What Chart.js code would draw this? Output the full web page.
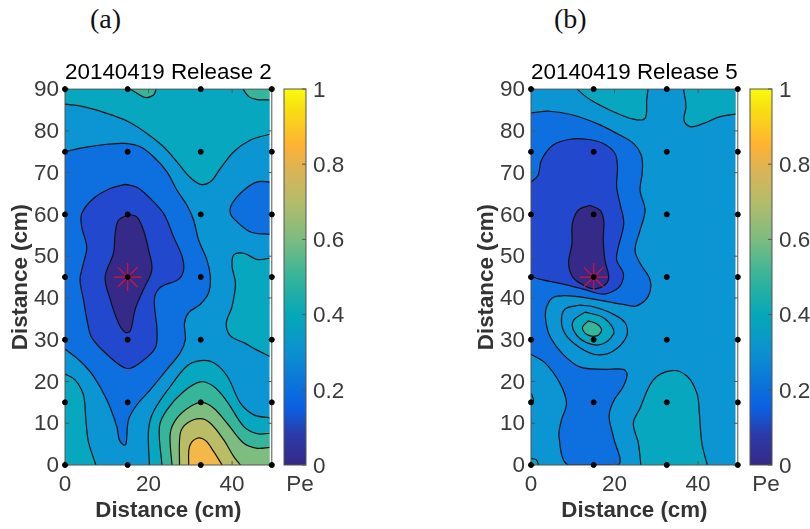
<!DOCTYPE html>
<html>
<head>
<meta charset="utf-8">
<script src="https://cdn.jsdelivr.net/npm/chart.js@4"></script>
<style>
    html, body { margin: 0; background: #fff; overflow: hidden; }
    body { width: 810px; height: 529px; position: relative; }
    canvas { position: absolute; top: 0; }
    .panel-tag { position: absolute; top: 3px; font: 28px "Liberation Serif", serif; color: #111; }
</style>
</head>
<body>
<div class="panel-tag" style="left:90px">(a)</div>
<div class="panel-tag" style="left:554px">(b)</div>
<canvas id="chartA" width="287" height="529" style="left:0"></canvas>
<canvas id="barA" width="80" height="529" style="left:276px"></canvas>
<canvas id="chartB" width="287" height="529" style="left:466px"></canvas>
<canvas id="barB" width="68" height="529" style="left:742px"></canvas>
<script>
// Sampling grid (cm) and the release point
const sensorX = [0, 15, 32.5, 49.5];
const sensorY = [0, 15, 30, 45, 60, 75, 90];
const releasePoint = [[15, 45]];

const xTicks = [0, 20, 40];
const yTicks = [0, 10, 20, 30, 40, 50, 60, 70, 80, 90];
const barTicks = [0, 0.2, 0.4, 0.6, 0.8, 1];
const barLabel = ["Pe"];
const barRange = [[0, 1]];

// Filled band colours, one per 0.1 of Pe
const bandColors = ["#352a87", "#2249cd", "#0d70de", "#0b95d2", "#07a8bf", "#36b59b", "#7ebd80", "#b9bd66", "#f3b848"];
const barStops = [
    [0, "#352a87"], [0.08, "#2c3aa8"], [0.15, "#0b5fe0"], [0.2, "#0b6fdc"], [0.3, "#0c90d0"],
    [0.4, "#05a8b8"], [0.5, "#35b49a"], [0.6, "#7cbc80"], [0.7, "#b4bc6a"], [0.78, "#d8b458"],
    [0.85, "#ffb233"], [0.95, "#f8e010"], [1, "#f9fb0e"]
];

// Contours, in cm
const a_topBand = [[0,86.4],[4.4,85.8],[10,84.2],[15.2,82.2],[19.6,79.4],[23.6,76.2],[26.8,72.6],[29.6,69.2],[32.4,67.2],[34.8,67.8],[37.2,71],[40.4,75],[44.4,77.8],[49,79.2]];
const a_topBlob1 = [[15.6,90],[17.2,89],[19.2,88],[21.2,88.6],[21.8,90]];
const a_topBlob2 = [[42.6,90],[44,88.2],[46,87.5],[49,87.4]];
const a_rightTeal = [[49,49.5],[46,49.2],[42.8,50.7],[40.4,50.3],[40,47.5],[40.8,43.5],[40,38],[38.6,34],[39.6,30.9],[42.8,29.3],[46,27.5],[49,26]];
const a_rightBlue = [[49,67.8],[46,67.8],[42.8,65.8],[40,62.6],[39.6,60.2],[41.2,58.2],[44.4,55.8],[49,55.2]];
const a_cornerTeal = [[0,21.8],[2.4,20.4],[4.4,16.8],[5,10.8],[5.6,5.6],[7.4,0]];
const a_hump1 = [[20.2,0],[20,8.4],[21.2,12.8],[25.2,18.8],[29.2,23.7],[32.4,25],[35.6,24.5],[38.8,21.3],[42,14.8],[45.2,12],[49,11.3]];
const a_hump2 = [[23.2,0],[22.6,9.2],[24.4,13.2],[28.4,17.6],[32.4,19.9],[35.6,18.8],[38.8,15.2],[42.8,9.2],[46,7.5],[49,7.6]];
const a_hump3 = [[25.6,0],[25.2,7.6],[26.8,11.2],[30,14],[32.8,15],[35.6,13.6],[38.8,10],[42.8,5.2],[46,4],[49,4.2]];
const a_hump4 = [[27.4,0],[27.6,7.6],[29.2,10],[32.4,11.1],[34.8,10],[38,6],[40.4,2],[42,0]];
const a_hump5 = [[29.6,0],[29.8,4.4],[31.6,6.4],[33.6,5.9],[35.6,3.2],[37.6,0]];
const a_blue = [[0,75],[4.4,76],[10,76.8],[14.4,77],[18,76.2],[21.2,73.8],[24.4,70.2],[26.8,65.8],[29.2,62.2],[30.8,58.6],[32,53.8],[34,49],[34.8,45],[34.4,41.3],[32.4,38.5],[29.6,36.5],[28.6,34],[28.8,30],[27.6,26.9],[24.4,22.9],[20.4,18],[17.2,14.4],[15.2,10.8],[14.6,5],[14,4.8],[13,6],[12.4,9.2],[10,15.6],[6.8,21.3],[3.6,24.9],[0,27.8]];
const a_deepBlue = [[14.4,67.2],[10.8,66.2],[6.8,63.8],[4,60.2],[4,57],[5.2,52.2],[4.4,48.2],[3.6,44.4],[4.4,39.7],[5.4,34],[6.4,30.5],[10,26.5],[14.8,23.1],[18,24.5],[21.6,28],[22,32.5],[21.4,39.7],[22.8,42.5],[27.2,44.5],[28.4,46.7],[28,50],[26,54.6],[23.6,60.2],[19.6,64.6],[17.2,66.5]];
const a_core = [[15.2,60],[12.8,58.6],[12,55.4],[11.6,50.7],[9.6,45],[10.8,39.7],[12.8,34],[14.4,31.8],[15.6,32],[16.8,37.3],[18.8,42.1],[20.8,46.7],[20,51.5],[18.8,56.2],[17.2,59.4]];

// Contours, in cm
const b_topBlob1 = [[11,90],[14.1,87.5],[19.7,84.6],[24.5,82.8],[27.3,83],[27.7,87.4],[28,90]];
const b_topBlob2 = [[36.5,90],[37.1,85.8],[36.6,82.6],[38.1,81],[41.3,81.8],[45.3,83.4],[49,84]];
const b_blue = [[0,84.3],[4.5,84.7],[10,83.8],[15.7,81.8],[20.5,79.4],[24.5,77],[26.5,73.8],[26.6,69.8],[26.1,65.8],[27.3,61],[26.1,56.2],[24.9,51.5],[26.1,48.3],[28.5,44.3],[28.1,40.5],[25.3,38.1],[22.9,38.3],[17.3,39.3],[9.3,40.5],[5.3,40.1],[3.7,37.7],[3.5,34.9],[4.5,30.9],[7.7,26.5],[11.7,23.5],[17.3,22.9],[22.1,22.9],[23,21.7],[22.1,18.8],[19.7,15.2],[18.7,11.6],[19.7,6.8],[20.9,0],[8.9,0],[6.7,6.8],[7.3,10.8],[8.5,14.8],[6.9,19.6],[3.3,24.5],[0,26.5]];
const b_deepBlue = [[0,67.7],[1.7,69.4],[2.5,73],[5.3,76.6],[9.3,78],[13.3,78],[17.3,77],[20.1,74.6],[20.7,71.4],[20.5,66.6],[21.3,62.6],[22.2,57.8],[20.9,52.2],[20.5,49],[22.1,45.9],[21.7,43.5],[20.5,42.1],[17.3,40.9],[12.5,42.1],[7.7,43.3],[2,44.5],[0,45.2]];
const b_core = [[14.1,62.2],[11.3,61],[9.9,57.8],[9.8,53],[9,48.3],[10,45],[12.5,43.1],[15,42.2],[17.7,43.1],[18.6,45],[17.7,49],[17.3,53.8],[17.4,58.6],[16.5,61]];
const b_spot1 = [[11.7,38.3],[8.1,37.3],[7.3,34.1],[8.5,30.9],[11.7,28.1],[15.7,26.4],[19.7,27.3],[22.9,30.9],[22.5,34.1],[18.9,36.5],[14.9,37.9]];
const b_spot2 = [[12.9,36.6],[10.1,34.5],[10.5,31.7],[13.3,29.3],[16.9,28.9],[19.7,31.3],[19.3,33.3],[16.9,35.5]];
const b_spot3 = [[13.7,34.5],[12.3,32.9],[13.3,31.3],[15.7,30.9],[16.9,32.3],[15.7,33.8]];
const b_hump = [[26.3,0],[25.7,5.2],[24.5,10],[26.1,13.6],[29.3,20.4],[33.7,22.6],[37.3,21.3],[39.7,17.2],[40.3,12.4],[40.9,5.2],[42.2,0]];
const b_corner = [[0,1.6],[1.3,1.2],[1.8,0]];
const b_edgeSpot = [[0,17.2],[0.6,15.5],[0,14.5]];

const INK = "#3a3a3a";
const TICK_FONT = { family: "Liberation Sans", size: 22.5 };
const LABEL_FONT = { family: "Liberation Sans", size: 22.3, weight: "bold" };
const sensors = [];
sensorX.forEach(x => sensorY.forEach(y => sensors.push([x, y])));

// One filled patch plus its contour line. edge = extra corners to close the fill, or null for a ring
function patch(points, edge, band) {
    let outline = edge ? points : points.concat([points[0]]);
    let area = edge ? points.concat(edge) : outline;
    return [
        { data: area, showLine: true, fill: "shape", backgroundColor: bandColors[band], borderColor: "transparent", borderWidth: 0, tension: 0.35, pointRadius: 0 },
        { data: outline, showLine: true, fill: false, borderColor: "#111", borderWidth: 1.2, tension: 0.35, pointRadius: 0 }
    ];
}

function plainBlock(points, color) {
    return { data: points, showLine: true, fill: "shape", backgroundColor: color, borderWidth: 0, tension: 0, pointRadius: 0 };
}

// MATLAB style box with ticks pointing inwards
function drawBox(chart, sides) {
    const ctx = chart.ctx, area = chart.chartArea;
    ctx.save();
    ctx.strokeStyle = "#555";
    ctx.lineWidth = 1;
    ctx.strokeRect(area.left, area.top, area.right - area.left, area.bottom - area.top);
    ctx.beginPath();
    chart.scales.y.options.ticks.values.forEach(v => {
        let py = chart.scales.y.getPixelForValue(v);
        if (sides.left) { ctx.moveTo(area.left, py); ctx.lineTo(area.left + 4, py); }
        ctx.moveTo(area.right, py); ctx.lineTo(area.right - 4, py);
    });
    if (sides.x) {
        xTicks.forEach(v => {
            let px = chart.scales.x.getPixelForValue(v);
            ctx.moveTo(px, area.bottom); ctx.lineTo(px, area.bottom - 4);
            ctx.moveTo(px, area.top); ctx.lineTo(px, area.top + 4);
        });
    }
    ctx.stroke();
    ctx.restore();
}

const panelFrame = {
    id: "panelFrame",
    beforeDatasetDraw(chart, args) {
        if (args.index === 0) drawBox(chart, { left: true, x: true });
    }
};
const barFrame = {
    id: "barFrame",
    afterDatasetsDraw(chart) { drawBox(chart, { left: false, x: false }); }
};

function makePanel(id, title, layers) {
    // first dataset ends up on top, so the list goes in reverse paint order
    let datasets = [
        { data: sensors, backgroundColor: "#000", borderColor: "#000", pointRadius: 2.5, clip: false },
        { data: releasePoint, pointStyle: "star", pointRadius: 14, borderColor: "#dc1038", borderWidth: 1.2, backgroundColor: "transparent" },
        plainBlock([[49,0],[49.5,0],[49.5,90],[49,90]], "#fff")
    ];
    layers.slice().reverse().forEach(l => datasets.push(l));

    new Chart(document.getElementById(id), {
        type: "scatter",
        data: { datasets: datasets },
        plugins: [panelFrame],
        options: {
            responsive: false,
            animation: false,
            layout: { padding: { top: 59, right: 8, left: 0, bottom: 0 } },
            plugins: {
                legend: { display: false },
                tooltip: { enabled: false },
                title: {
                    display: true, text: title, color: "#000", fullSize: false,
                    font: { family: "Liberation Sans", size: 22.6, weight: "normal" },
                    padding: { top: 0, bottom: 3 }
                }
            },
            scales: {
                x: {
                    min: 0, max: 49.5,
                    grid: { display: false, drawTicks: false },
                    border: { display: false },
                    afterFit: s => { s.height = 64; s.paddingRight = 0; s.paddingLeft = 0; },
                    afterBuildTicks: s => { s.ticks = xTicks.map(v => ({ value: v })); },
                    ticks: { color: INK, font: TICK_FONT, padding: 6, maxRotation: 0, autoSkip: false },
                    title: { display: true, text: "Distance (cm)", color: "#333", font: LABEL_FONT, padding: { top: 0, bottom: 5 } }
                },
                y: {
                    min: 0, max: 90,
                    grid: { display: false, drawTicks: false },
                    border: { display: false },
                    afterFit: s => { s.width = 65; },
                    afterBuildTicks: s => { s.ticks = yTicks.map(v => ({ value: v })); },
                    ticks: { values: yTicks, color: INK, font: TICK_FONT, padding: 6, labelOffset: 1, autoSkip: false },
                    title: { display: true, text: "Distance (cm)", color: "#333", font: LABEL_FONT, padding: { top: 7, bottom: 0 } }
                }
            }
        }
    });
}

function makeBar(id, rightRoom) {
    new Chart(document.getElementById(id), {
        type: "bar",
        data: {
            labels: barLabel,
            datasets: [{
                data: barRange,
                categoryPercentage: 1,
                barPercentage: 1,
                backgroundColor: c => {
                    let area = c.chart.chartArea;
                    if (!area) return "#0b95d2";
                    let g = c.chart.ctx.createLinearGradient(0, area.bottom, 0, area.top);
                    barStops.forEach(s => g.addColorStop(s[0], s[1]));
                    return g;
                }
            }]
        },
        plugins: [barFrame],
        options: {
            responsive: false,
            animation: false,
            layout: { padding: { top: 89, left: 8, right: 0, bottom: 0 } },
            plugins: { legend: { display: false }, tooltip: { enabled: false } },
            scales: {
                x: {
                    grid: { display: false, drawTicks: false },
                    border: { display: false },
                    afterFit: s => { s.height = 64; s.paddingRight = 0; s.paddingLeft = 0; },
                    ticks: { color: INK, font: TICK_FONT, padding: 6, labelOffset: 5, maxRotation: 0 }
                },
                y: {
                    position: "right",
                    min: 0, max: 1,
                    grid: { display: false, drawTicks: false },
                    border: { display: false },
                    afterFit: s => { s.width = rightRoom; },
                    afterBuildTicks: s => { s.ticks = barTicks.map(v => ({ value: v })); },
                    ticks: { values: barTicks, color: INK, font: TICK_FONT, padding: 7, labelOffset: 1.5, autoSkip: false, callback: v => String(v) }
                }
            }
        }
    });
}

makePanel("chartA", "20140419 Release 2", [
    plainBlock([[0,0],[49,0],[49,90],[0,90]], bandColors[3]),
    ...patch(a_topBand, [[49,90],[0,90]], 4),
    ...patch(a_topBlob1, [], 5),
    ...patch(a_topBlob2, [[49,90]], 5),
    ...patch(a_rightTeal, [], 4),
    ...patch(a_rightBlue, [], 2),
    ...patch(a_cornerTeal, [[0,0]], 4),
    ...patch(a_hump1, [[49,0]], 4),
    ...patch(a_hump2, [[49,0]], 5),
    ...patch(a_hump3, [[49,0]], 6),
    ...patch(a_hump4, [], 7),
    ...patch(a_hump5, [], 8),
    ...patch(a_blue, [], 2),
    ...patch(a_deepBlue, null, 1),
    ...patch(a_core, null, 0)
]);

makePanel("chartB", "20140419 Release 5", [
    plainBlock([[0,0],[49,0],[49,90],[0,90]], bandColors[3]),
    ...patch(b_topBlob1, [], 4),
    ...patch(b_topBlob2, [[49,90]], 4),
    ...patch(b_hump, [], 4),
    ...patch(b_corner, [[0,0]], 4),
    ...patch(b_edgeSpot, [], 4),
    ...patch(b_blue, [], 2),
    ...patch(b_deepBlue, [], 1),
    ...patch(b_core, null, 0),
    ...patch(b_spot1, null, 3),
    ...patch(b_spot2, null, 4),
    ...patch(b_spot3, null, 5)
]);

makeBar("barA", 50);
makeBar("barB", 38);
</script>
</body>
</html>
